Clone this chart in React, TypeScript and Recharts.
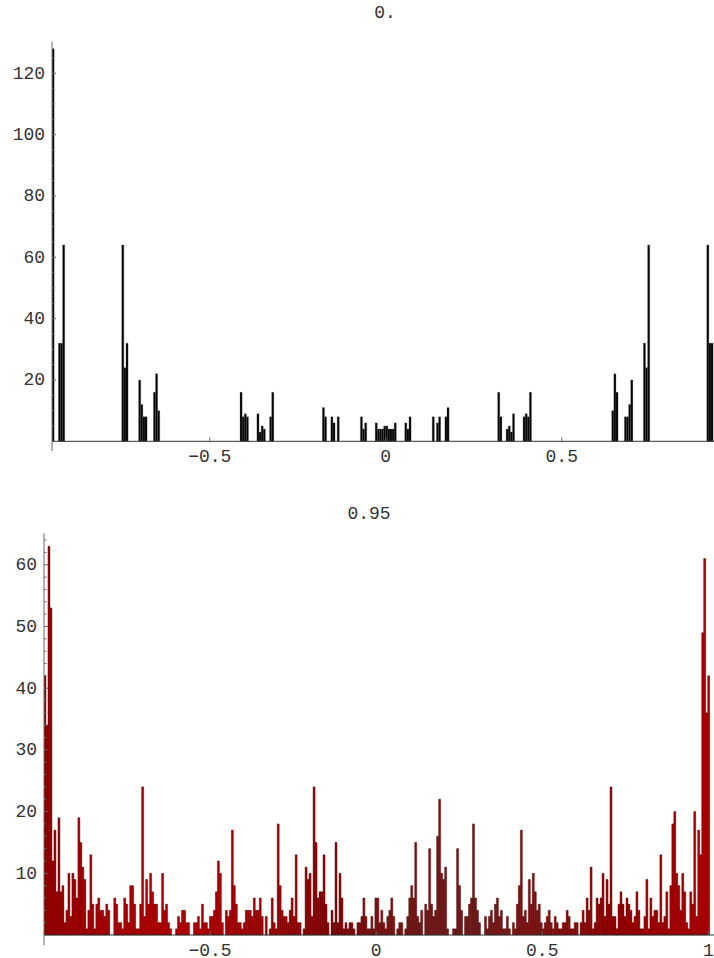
import { BarChart, Bar, XAxis, YAxis, ReferenceLine } from "recharts"

const FONT = "'Liberation Mono', 'DejaVu Sans Mono', monospace"
const TEXT = "#333"
const AXIS = "#666"

// ─── top histogram ("0.") ───────────────────────────────────────────────────
// bin centres (bins are 0.006 wide) and counts; empty bins left out
const TOP_CENTERS = [
  -0.945, -0.927, -0.921, -0.915, -0.747, -0.741, -0.735, -0.699, -0.693, -0.687, -0.681,
  -0.657, -0.651, -0.645, -0.411, -0.405, -0.399, -0.393, -0.363, -0.357, -0.351, -0.345,
  -0.327, -0.321, -0.177, -0.171, -0.153, -0.147, -0.135, -0.069, -0.063, -0.057,
  -0.027, -0.021, -0.015, -0.009, -0.003, 0.003, 0.009, 0.015, 0.021, 0.027,
  0.057, 0.063, 0.069, 0.135, 0.147, 0.153, 0.171, 0.177, 0.321, 0.327,
  0.345, 0.351, 0.357, 0.363, 0.393, 0.399, 0.405, 0.411, 0.645, 0.651, 0.657,
  0.681, 0.687, 0.693, 0.699, 0.735, 0.741, 0.747, 0.915, 0.921, 0.927, 0.945,
]
const TOP_COUNTS = [
  128, 32, 32, 64, 64, 24, 32, 20, 12, 8, 8,
  16, 22, 10, 16, 8, 9, 8, 9, 3, 5, 4,
  8, 16, 11, 8, 8, 6, 8, 8, 4, 6,
  6, 4, 4, 4, 5, 5, 4, 4, 4, 6,
  6, 4, 8, 8, 6, 8, 8, 11, 16, 8,
  4, 5, 3, 9, 8, 9, 8, 16, 10, 22, 16,
  8, 8, 12, 20, 32, 24, 64, 64, 32, 32, 128,
]
const TOP_X_TICKS = [-0.5, 0, 0.5]
const TOP_Y_TICKS = [5, 10, 15, 20, 25, 30, 35, 40, 45, 50, 55, 60, 65, 70, 75, 80, 85, 90, 95, 100, 105, 110, 115, 120, 125]
const TOP_Y_LABELS = [20, 40, 60, 80, 100, 120]

// ─── bottom histogram ("0.95") ──────────────────────────────────────────────
const BOTTOM_BIN_START = -1
const BOTTOM_BIN_WIDTH = 0.006
const BOTTOM_COUNTS = [
  42, 34, 63, 53, 12, 17, 7, 19, 7, 8,
  2, 4, 10, 3, 10, 9, 6, 19, 15, 11,
  9, 1, 4, 13, 5, 1, 5, 6, 4, 4,
  3, 5, 4, 0, 0, 6, 5, 2, 2, 1,
  6, 5, 2, 8, 8, 5, 1, 1, 5, 24,
  3, 9, 5, 10, 7, 5, 5, 2, 2, 10,
  4, 5, 2, 1, 0, 0, 1, 3, 2, 4,
  4, 2, 2, 0, 0, 2, 2, 3, 1, 5,
  2, 2, 1, 3, 3, 4, 7, 12, 10, 2,
  0, 4, 3, 4, 17, 8, 5, 2, 2, 1,
  2, 4, 4, 4, 3, 6, 4, 4, 6, 3,
  0, 3, 0, 1, 6, 2, 1, 18, 8, 4,
  3, 3, 2, 4, 6, 3, 13, 2, 2, 0,
  1, 11, 9, 10, 3, 24, 15, 6, 7, 7,
  13, 5, 2, 0, 4, 2, 15, 2, 10, 6,
  1, 2, 1, 2, 2, 1, 0, 2, 2, 3,
  6, 3, 1, 1, 3, 1, 6, 6, 2, 4,
  2, 1, 3, 4, 6, 3, 0, 1, 2, 2,
  0, 1, 3, 6, 8, 6, 15, 3, 2, 4,
  0, 5, 4, 14, 5, 3, 4, 16, 22, 10,
  9, 11, 1, 0, 0, 1, 1, 14, 8, 4,
  0, 3, 3, 5, 6, 18, 6, 4, 2, 0,
  0, 3, 1, 3, 4, 2, 5, 6, 3, 4,
  1, 1, 3, 1, 0, 2, 1, 5, 8, 17,
  3, 4, 2, 9, 5, 10, 7, 4, 5, 2,
  1, 2, 3, 4, 2, 1, 3, 2, 1, 1,
  2, 2, 4, 3, 1, 1, 2, 2, 0, 2,
  4, 2, 6, 4, 11, 1, 2, 6, 5, 6,
  10, 3, 9, 5, 24, 3, 3, 1, 5, 7,
  5, 3, 6, 5, 4, 2, 3, 7, 4, 1,
  1, 3, 9, 1, 6, 3, 4, 4, 2, 13,
  2, 3, 7, 1, 8, 18, 20, 10, 8, 4,
  10, 7, 2, 1, 7, 5, 20, 3, 17, 13,
  49, 61, 36, 42,
]
const BOTTOM_X_TICKS = [-0.5, 0, 0.5, 1]
const BOTTOM_Y_TICKS = [2, 4, 6, 8, 10, 12, 14, 16, 18, 20, 22, 24, 26, 28, 30, 32, 34, 36, 38, 40, 42, 44, 46, 48, 50, 52, 54, 56, 58, 60, 62, 64]
const BOTTOM_Y_LABELS = [10, 20, 30, 40, 50, 60]

const topData = TOP_CENTERS.map((x, i) => ({ x, count: TOP_COUNTS[i] }))
const bottomData = BOTTOM_COUNTS.map((count, i) => ({
  x: BOTTOM_BIN_START + BOTTOM_BIN_WIDTH * (i + 0.5),
  count,
}))

const fmtTick = (v: number) => (v < 0 ? "\u2212" + String(-v) : String(v))

// x tick: small mark on the y=0 line, label under the plot frame
function makeXTick(zeroOffset: number) {
  // eslint-disable-next-line @typescript-eslint/no-explicit-any
  return (props: any) => {
    const { x, y, payload } = props
    return (
      <g>
        <line x1={x} x2={x} y1={y - zeroOffset} y2={y - zeroOffset - 4} stroke={AXIS} />
        <text x={x} y={y + 10.5} textAnchor="middle" fontFamily={FONT} fontSize={18} fill={TEXT}>
          {fmtTick(payload.value)}
        </text>
      </g>
    )
  }
}

function makeYTick(labels: number[]) {
  // eslint-disable-next-line @typescript-eslint/no-explicit-any
  return (props: any) => {
    const { x, y, payload } = props
    const major = labels.includes(payload.value)
    return (
      <g>
        <line x1={x} x2={x + (major ? 4 : 2.5)} y1={y} y2={y} stroke={AXIS} />
        {major && (
          <text x={x - 7} y={y + 5.5} textAnchor="end" fontFamily={FONT} fontSize={18} fill={TEXT}>
            {payload.value}
          </text>
        )}
      </g>
    )
  }
}

// ─── layout ────────────────────────────────────────────────────────────────
const Y_AXIS_W = 40

const TOP = {
  width: 760, height: 480,
  plotLeft: 52.05, plotRight: 719.45, plotTop: 41.7, plotBottom: 451,
  xDomain: [-0.948, 0.948] as [number, number],
  yDomain: [-3.16, 130.3] as [number, number],
  xAxisH: 20,
}
const BOTTOM = {
  top: 490, width: 714, height: 468,
  plotLeft: 44, plotRight: 714, plotTop: 533.3, plotBottom: 945,
  xDomain: [-1, 1.017] as [number, number],
  yDomain: [-1.62, 65.1] as [number, number],
  xAxisH: 10,
}

function zeroOffsetOf(plotH: number, d: [number, number]) {
  return (plotH * (0 - d[0])) / (d[1] - d[0])
}

function TopChart() {
  const c = TOP
  const plotH = c.plotBottom - c.plotTop
  return (
    <BarChart
      width={c.width}
      height={c.height}
      data={topData}
      barCategoryGap={0}
      margin={{
        top: c.plotTop,
        left: c.plotLeft - Y_AXIS_W,
        right: c.width - c.plotRight,
        bottom: c.height - c.plotBottom - c.xAxisH,
      }}
      style={{ position: "absolute", left: 0, top: 0 }}
    >
      <XAxis
        type="number"
        dataKey="x"
        domain={c.xDomain}
        allowDataOverflow
        ticks={TOP_X_TICKS}
        interval={0}
        axisLine={false}
        tickLine={false}
        tickSize={0}
        tickMargin={0}
        height={c.xAxisH}
        tick={makeXTick(zeroOffsetOf(plotH, c.yDomain))}
      />
      <YAxis
        type="number"
        domain={c.yDomain}
        allowDataOverflow
        ticks={TOP_Y_TICKS}
        interval={0}
        width={Y_AXIS_W}
        axisLine={{ stroke: AXIS }}
        tickLine={false}
        tickSize={0}
        tickMargin={0}
        tick={makeYTick(TOP_Y_LABELS)}
      />
      <ReferenceLine y={0} stroke="#333" />
      <Bar dataKey="count" fill="#000" stroke="#555" strokeWidth={0.3} barSize={2.1} isAnimationActive={false} />
    </BarChart>
  )
}

function BottomChart() {
  const c = BOTTOM
  const plotH = c.plotBottom - c.plotTop
  return (
    <BarChart
      width={c.width}
      height={c.height}
      data={bottomData}
      barCategoryGap={0}
      margin={{
        top: c.plotTop - c.top,
        left: c.plotLeft - Y_AXIS_W,
        right: c.width - c.plotRight,
        bottom: c.top + c.height - c.plotBottom - c.xAxisH,
      }}
      style={{ position: "absolute", left: 0, top: c.top }}
    >
      <XAxis
        type="number"
        dataKey="x"
        domain={c.xDomain}
        allowDataOverflow
        ticks={BOTTOM_X_TICKS}
        interval={0}
        axisLine={false}
        tickLine={false}
        tickSize={0}
        tickMargin={0}
        height={c.xAxisH}
        tick={makeXTick(zeroOffsetOf(plotH, c.yDomain))}
      />
      <YAxis
        type="number"
        domain={c.yDomain}
        allowDataOverflow
        ticks={BOTTOM_Y_TICKS}
        interval={0}
        width={Y_AXIS_W}
        axisLine={{ stroke: AXIS }}
        tickLine={false}
        tickSize={0}
        tickMargin={0}
        tick={makeYTick(BOTTOM_Y_LABELS)}
      />
      <ReferenceLine y={0} stroke="#333" />
      <Bar dataKey="count" fill="#b00000" stroke="#1a0000" strokeWidth={0.4} barSize={1.99} isAnimationActive={false} />
    </BarChart>
  )
}

export default function App() {
  return (
    <div style={{ position: "absolute", left: 0, top: 0, width: 714, height: 958, overflow: "hidden", background: "#fff" }}>
      <TopChart />
      <BottomChart />
      <svg width={714} height={958} style={{ position: "absolute", left: 0, top: 0, pointerEvents: "none" }}>
        <text x={385} y={18} textAnchor="middle" fontFamily={FONT} fontSize={18} fill={TEXT}>0.</text>
        <text x={369} y={519} textAnchor="middle" fontFamily={FONT} fontSize={18} fill={TEXT}>0.95</text>
      </svg>
    </div>
  )
}
